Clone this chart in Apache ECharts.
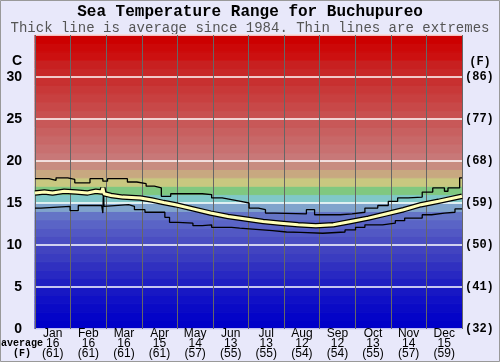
<!DOCTYPE html>
<html>
<head>
<meta charset="utf-8">
<script src="https://cdn.jsdelivr.net/npm/echarts@6/dist/echarts.min.js"></script>
<style>
  html, body { margin: 0; padding: 0; background: #e8e8fa; }
  #chart { width: 500px; height: 362px; }
</style>
</head>
<body>
<div id="chart"></div>
<script>
const months = ['Jan', 'Feb', 'Mar', 'Apr', 'May', 'Jun', 'Jul', 'Aug', 'Sep', 'Oct', 'Nov', 'Dec'];
const monthAvgC = [16, 16, 16, 15, 14, 13, 13, 12, 12, 13, 14, 15];
const monthAvgF = [61, 61, 61, 61, 57, 55, 55, 54, 54, 55, 57, 59];

// one colour per 1°C band, from 0 upward
const bandColors = [
  '#0000c8', '#0404c8', '#0a0ac6', '#1010c6', '#1818c4', '#2020c2', '#2828c2', '#3030c0',
  '#3a3cc0', '#4244c0', '#4a4ec2', '#5258c4', '#5a64c6', '#6474c6', '#80a4cc', '#80c8c8',
  '#80c880', '#c8c880', '#c8a880', '#c88c80', '#c87878', '#c87070', '#c86868', '#c86060',
  '#c85858', '#c85050', '#c84848', '#c84040', '#c83838', '#c83030', '#c82828', '#c82020',
  '#cc1010', '#cc0808', '#cc0000'
];

// day of year -> °C (step lines hold each value until the next day listed)
const maxDays = [0, 12, 18, 28, 34, 47, 58, 62, 79, 87, 95, 102, 108, 116, 143, 151, 160, 168, 176, 183, 191, 197, 205, 232, 239, 261, 271, 282, 293, 302, 310, 319, 331, 340, 350, 353, 363, 365];
const maxVals = [17.9, 17.7, 18.0, 17.8, 17.4, 17.9, 17.6, 17.9, 17.5, 17.3, 17.0, 16.8, 15.8, 16.1, 16.0, 15.6, 15.4, 15.2, 15.0, 14.4, 14.2, 13.8, 13.7, 14.2, 13.6, 13.7, 13.9, 14.4, 14.7, 15.2, 15.6, 15.7, 16.3, 16.8, 16.4, 16.8, 18.0, 18.0];

const minDays = [0, 5, 30, 37, 57, 58, 58.5, 59, 60, 80, 85, 94, 111, 115, 122, 135, 143, 151, 168, 175, 186, 203, 215, 227, 246, 265, 274, 282, 297, 308, 316, 331, 339, 350, 359, 365];
const minVals = [14.4, 14.6, 14.1, 14.7, 14.6, 13.8, 16.6, 14.6, 14.8, 14.6, 14.2, 13.9, 13.3, 12.7, 12.6, 12.3, 12.4, 12.1, 12.0, 11.9, 11.7, 11.55, 11.5, 11.4, 11.55, 11.8, 12.1, 12.4, 12.6, 12.9, 13.2, 13.6, 13.8, 13.9, 14.3, 14.3];

const avgDays = [0, 8, 15, 25, 35, 45, 52, 57, 58, 59, 65, 75, 90, 100, 110, 120, 135, 150, 165, 180, 195, 210, 225, 240, 255, 270, 285, 300, 315, 330, 345, 365];
const avgVals = [16.2, 16.3, 16.2, 16.4, 16.3, 16.2, 16.4, 16.3, 16.8, 16.1, 15.9, 15.7, 15.6, 15.35, 15.05, 14.8, 14.3, 13.8, 13.4, 13.1, 12.8, 12.6, 12.4, 12.3, 12.4, 12.8, 13.2, 13.7, 14.2, 14.8, 15.2, 15.8];

const zip = (xs, ys) => xs.map((x, i) => [x, ys[i]]);
const mono = 'Liberation Mono, Courier New, monospace';

const chart = echarts.init(document.getElementById('chart'));

chart.setOption({
  animation: false,
  backgroundColor: '#e8e8fa',
  grid: { left: 35, right: 38, top: 35, bottom: 33 },
  graphic: [
    { type: 'rect', shape: { x: 0.5, y: 0.5, width: 499, height: 361 }, style: { fill: 'none', stroke: '#999', lineWidth: 1 }, silent: true },
    { type: 'text', left: 'center', top: 4, style: { text: 'Sea Temperature Range for Buchupureo', font: 'bold 16px ' + mono, fill: '#000' } },
    { type: 'text', left: 'center', top: 21, style: { text: 'Thick line is average since 1984. Thin lines are extremes', font: '14px ' + mono, fill: '#555' } },
    { type: 'text', x: 22, y: 61, style: { text: 'C', font: 'bold 14px Liberation Sans, Arial, sans-serif', fill: '#000', align: 'right', verticalAlign: 'middle' } },
    { type: 'text', x: 480, y: 62, style: { text: '(F)', font: 'bold 12px ' + mono, fill: '#000', align: 'center', verticalAlign: 'middle' } },
    { type: 'text', x: 22, y: 343, style: { text: 'average', font: 'bold 10px ' + mono, fill: '#000', align: 'center', verticalAlign: 'middle' } },
    { type: 'text', x: 22, y: 353, style: { text: '(F)', font: 'bold 10px ' + mono, fill: '#000', align: 'center', verticalAlign: 'middle' } }
  ],
  xAxis: [
    {
      type: 'category',
      data: months,
      boundaryGap: true,
      z: 3,
      axisLine: { show: false },
      axisTick: { show: false },
      splitLine: { show: true, interval: 0, lineStyle: { color: '#666', width: 1 } },
      axisLabel: {
        interval: 0,
        margin: 0,
        formatter: (v, i) => '{m|' + v + '}\n{c|' + monthAvgC[i] + '}\n{f|(' + monthAvgF[i] + ')}',
        rich: {
          m: { font: 'bold 11px ' + mono, color: '#000', lineHeight: 10 },
          c: { font: '11px ' + mono, color: '#000', lineHeight: 10 },
          f: { font: '11px ' + mono, color: '#000', lineHeight: 10 }
        }
      }
    },
    { type: 'value', min: 0, max: 365, show: false }
  ],
  yAxis: [
    {
      type: 'value', min: 0, max: 35, interval: 5, z: 3,
      axisLine: { show: false }, axisTick: { show: false },
      splitLine: { show: true, lineStyle: { color: '#fff', width: 1.5 } },
      axisLabel: {
        margin: 13, color: '#000', fontWeight: 'bold', fontSize: 14, fontFamily: 'Liberation Sans, Arial, sans-serif',
        formatter: v => (v >= 35 ? '' : String(v))
      }
    },
    {
      type: 'value', min: 0, max: 35, interval: 5, position: 'right', z: 3,
      axisLine: { show: false }, axisTick: { show: false }, splitLine: { show: false },
      axisLabel: {
        margin: 3, color: '#000', fontWeight: 'bold', fontSize: 12, fontFamily: mono,
        formatter: v => (v >= 35 ? '' : '(' + Math.round(v * 9 / 5 + 32) + ')')
      }
    }
  ],
  series: [
    {
      type: 'line', xAxisIndex: 1, yAxisIndex: 0, data: [], z: 1, silent: true,
      markArea: {
        silent: true,
        data: bandColors.map((c, i) => [
          { yAxis: i, itemStyle: { color: c, opacity: 1, borderColor: c, borderWidth: 1 } },
          { yAxis: i + 1 }
        ])
      }
    },
    {
      name: 'max', type: 'line', xAxisIndex: 1, step: 'end', symbol: 'none', z: 5,
      lineStyle: { color: '#000', width: 1.3 }, data: zip(maxDays, maxVals)
    },
    {
      name: 'min', type: 'line', xAxisIndex: 1, step: 'end', symbol: 'none', z: 5,
      lineStyle: { color: '#000', width: 1.3 }, data: zip(minDays, minVals)
    },
    {
      name: 'avg outline', type: 'line', xAxisIndex: 1, symbol: 'none', z: 6,
      lineStyle: { color: '#000', width: 5.5 }, data: zip(avgDays, avgVals)
    },
    {
      name: 'avg', type: 'line', xAxisIndex: 1, symbol: 'none', z: 7,
      lineStyle: { color: '#ffffb8', width: 3 }, data: zip(avgDays, avgVals)
    }
  ]
});
</script>
</body>
</html>
